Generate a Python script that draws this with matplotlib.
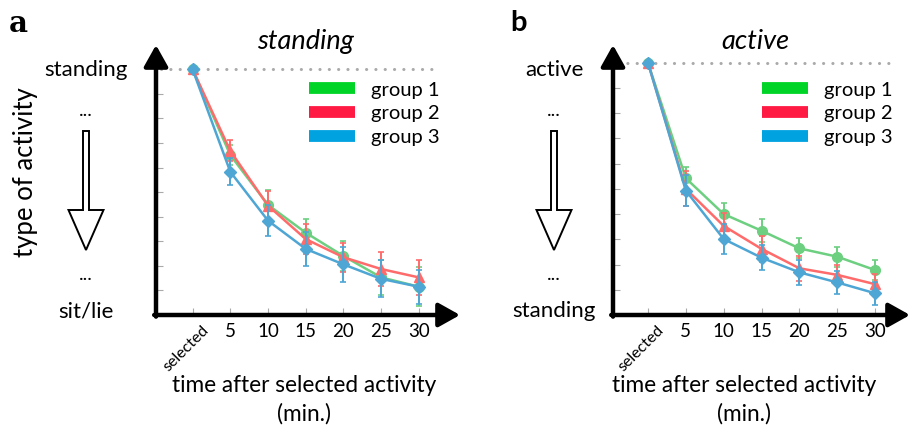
import matplotlib
matplotlib.use('Agg')
import matplotlib.pyplot as plt
from matplotlib.lines import Line2D
from matplotlib.patches import FancyArrow

plt.rcParams['font.family'] = ['Lato', 'DejaVu Sans']

# === data (fraction of the reference activity level)
x_labels = ['selected', '5', '10', '15', '20', '25', '30']
groups = ['group 1', 'group 2', 'group 3']

stand_g1 = [1.0, 0.651, 0.448, 0.335, 0.240, 0.153, 0.115]
stand_g2 = [1.0, 0.668, 0.445, 0.309, 0.235, 0.187, 0.153]
stand_g3 = [1.0, 0.583, 0.384, 0.269, 0.206, 0.147, 0.115]
stand_e1 = [0.0, 0.040, 0.060, 0.056, 0.062, 0.070, 0.080]
stand_e2 = [0.0, 0.043, 0.058, 0.060, 0.060, 0.070, 0.072]
stand_e3 = [0.0, 0.055, 0.064, 0.070, 0.070, 0.075, 0.070]

active_g1 = [1.0, 0.542, 0.400, 0.334, 0.264, 0.231, 0.178]
active_g2 = [1.0, 0.500, 0.353, 0.262, 0.185, 0.159, 0.122]
active_g3 = [1.0, 0.493, 0.301, 0.227, 0.169, 0.129, 0.086]
active_e1 = [0.0, 0.044, 0.045, 0.045, 0.040, 0.040, 0.040]
active_e2 = [0.0, 0.070, 0.050, 0.050, 0.050, 0.040, 0.040]
active_e3 = [0.0, 0.060, 0.058, 0.050, 0.050, 0.045, 0.045]

line_colors = ['#6dcf80', '#ff6b6b', '#4ea6d4']
legend_colors = ['#00d426', '#ff1a44', '#00a3e0']
markers = ['o', '^', 'D']

W, H = 911, 426
fig = plt.figure(figsize=(W / 100.0, H / 100.0), dpi=100)

# overlay in pixel coords for the side decorations
deco = fig.add_axes([0, 0, 1, 1], zorder=0)
deco.set_xlim(0, W)
deco.set_ylim(H, 0)
deco.axis('off')
deco.patch.set_alpha(0)


def px_axes(left, right, top, bottom):
    return fig.add_axes([left / W, (H - bottom) / H, (right - left) / W, (bottom - top) / H], zorder=2)


def draw_panel(ax, series, errs, xlim, ylim, title, title_x, legend_xy):
    xs = list(range(len(x_labels)))
    for i in range(3):
        ax.errorbar(xs, series[i], yerr=errs[i], color=line_colors[i], marker=markers[i],
                    markersize=7 if markers[i] != 'D' else 6, lw=1.8, elinewidth=1.4,
                    capsize=2.5, capthick=1.2, zorder=3 + i * 0.1)
    ax.set_xlim(*xlim)
    ax.set_ylim(*ylim)
    for s in ax.spines.values():
        s.set_visible(False)
    # axis arrows
    arr = dict(arrowstyle='-|>,head_length=0.5,head_width=0.28', lw=3.2, color='black',
               shrinkA=0, shrinkB=0, mutation_scale=26)
    ax.annotate('', xy=(1, 0), xytext=(-0.006, 0), xycoords='axes fraction',
                arrowprops=arr, annotation_clip=False)
    ax.annotate('', xy=(0, 1), xytext=(0, -0.006), xycoords='axes fraction',
                arrowprops=arr, annotation_clip=False)
    # dotted reference line
    ax.plot([xlim[0] + 0.12, 6.5], [1, 1], color='#aaaaaa', lw=2.2,
            linestyle=(0, (0.05, 3.0)), dash_capstyle='round', zorder=1)
    ax.set_xticks(xs)
    ax.set_xticklabels([''] + x_labels[1:], fontsize=13.5)
    ax.text(0.24, -0.03, x_labels[0], rotation=45, ha='right', va='top',
            rotation_mode='anchor', fontsize=11.5, transform=ax.get_xaxis_transform())
    ax.set_yticks([i / 10.0 for i in range(1, 10)])
    ax.set_yticklabels([])
    ax.tick_params(axis='both', direction='in', length=5, width=0.8, color='#aaaaaa')
    ax.tick_params(axis='x', pad=6)
    ax.text(title_x, 0.985, title, fontstyle='italic', fontsize=19.5, ha='center',
            va='baseline', transform=ax.transAxes)
    handles = [Line2D([], [], color=c, lw=8.5, solid_capstyle='butt') for c in legend_colors]
    ax.legend(handles, groups, frameon=False, fontsize=14.5, handlelength=2.3,
              handletextpad=0.8, labelspacing=0.32, loc='upper left',
              bbox_to_anchor=legend_xy, borderaxespad=0, borderpad=0)


ax_a = px_axes(156, 460, 45, 315)
draw_panel(ax_a, [stand_g1, stand_g2, stand_g3], [stand_e1, stand_e2, stand_e3],
           (-0.97, 7.09), (0, 1.099), 'standing', 0.49, (0.503, 0.865))

ax_b = px_axes(613, 910, 45, 315)
draw_panel(ax_b, [active_g1, active_g2, active_g3], [active_e1, active_e2, active_e3],
           (-0.923, 6.92), (0, 1.070), 'active', 0.48, (0.50, 0.865))

# x labels
for cx in (304, 744):
    deco.text(cx, 385, 'time after selected activity', ha='center', va='center', fontsize=16.3)
    deco.text(cx, 414, '(min.)', ha='center', va='center', fontsize=16.3)

# left side decorations
deco.text(18, 23, 'a', ha='center', va='center', fontsize=21, fontweight='bold',
          family='DejaVu Serif')
deco.text(518, 23, 'b', ha='center', va='center', fontsize=21, fontweight='bold')
deco.text(26, 172, 'type of activity', rotation=90, ha='center', va='center', fontsize=18.5)

side = [(86, 'standing', 'sit/lie'), (554, 'active', 'standing')]
for cx, top_txt, bot_txt in side:
    deco.text(cx, 70, top_txt, ha='center', va='center', fontsize=16)
    deco.text(cx, 110, '...', ha='center', va='center', fontsize=14)
    deco.add_patch(FancyArrow(cx, 131, 0, 119, width=6, head_width=35, head_length=40,
                              length_includes_head=True, fc='white', ec='black', lw=1.4))
    deco.text(cx, 275, '...', ha='center', va='center', fontsize=14)
    deco.text(cx, 311, bot_txt, ha='center', va='center', fontsize=16)

fig.savefig('out.png', dpi=100)
